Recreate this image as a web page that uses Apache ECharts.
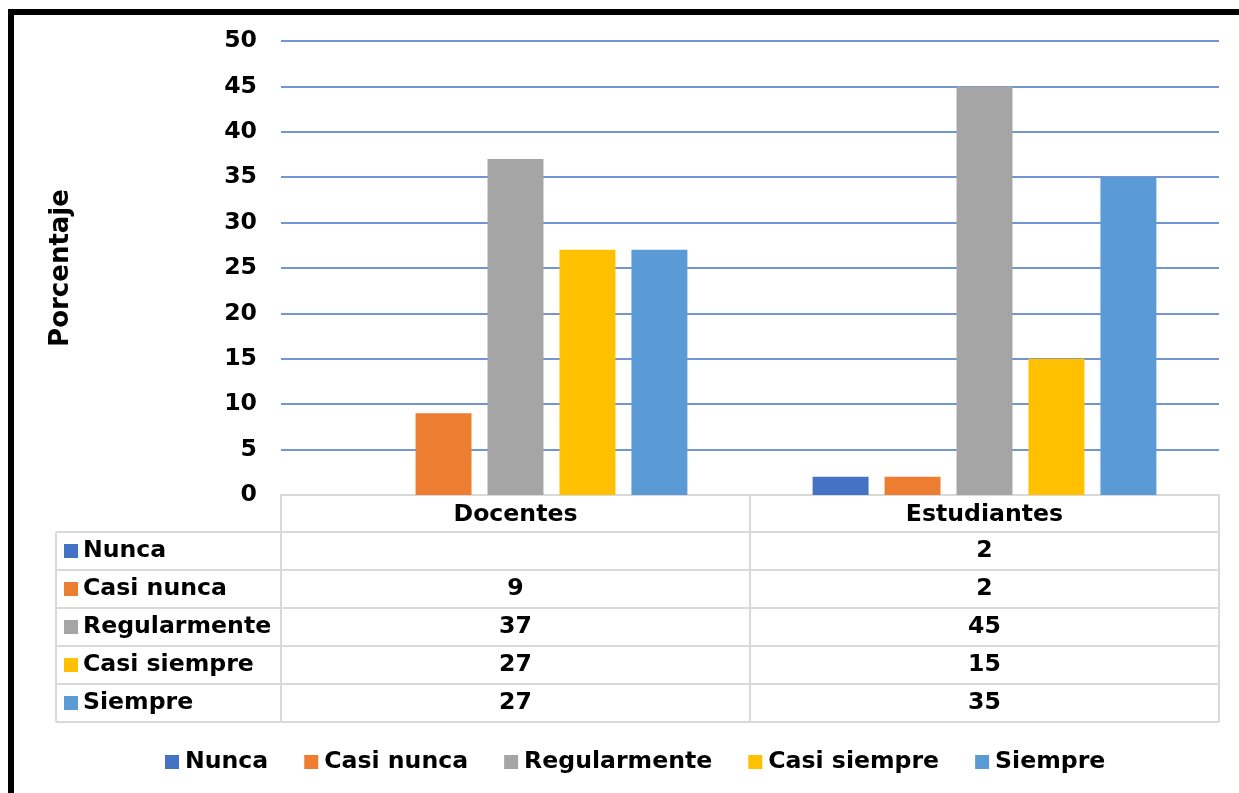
<!DOCTYPE html>
<html><head><meta charset="utf-8">
<script src="https://cdn.jsdelivr.net/npm/echarts@6/dist/echarts.min.js"></script>
<style>html,body{margin:0;padding:0;background:#fff}#c{width:1239px;height:793px}</style>
</head><body><div id="c"></div>
<script>
const categories = ['Docentes', 'Estudiantes'];
const seriesNames = ['Nunca', 'Casi nunca', 'Regularmente', 'Casi siempre', 'Siempre'];
const nunca = [null, 2];
const casiNunca = [9, 2];
const regularmente = [37, 45];
const casiSiempre = [27, 15];
const siempre = [27, 35];
const yTicks = [0, 5, 10, 15, 20, 25, 30, 35, 40, 45, 50];
const colors = ['#4472C4', '#ED7D31', '#A5A5A5', '#FFC000', '#5B9BD5'];
const values = [nunca, casiNunca, regularmente, casiSiempre, siempre];

const FONT = 'DejaVu Sans';
const FS = 23.6;
const GRID = { left: 281, right: 20, top: 41, bottom: 298 };
const ROW_H = 38;
const HEADER_H = 37;
const TABLE_LEFT = 56;
const BORDER = '#d9d9d9';

const chart = echarts.init(document.getElementById('c'), null, { renderer: 'canvas' });
chart.setOption({
  animation: false,
  color: colors,
  grid: GRID,
  legend: {
    left: 165, top: 750, padding: 0,
    itemWidth: 14, itemHeight: 14, itemGap: 36,
    icon: 'rect',
    textStyle: { fontFamily: FONT, fontWeight: 'bold', fontSize: FS, color: '#000', padding: [0, 0, 0, 1] },
    data: seriesNames
  },
  xAxis: {
    type: 'category', data: categories,
    axisLine: { show: true, lineStyle: { color: BORDER, width: 2 } },
    axisTick: { show: false },
    axisLabel: { fontFamily: FONT, fontWeight: 'bold', fontSize: FS, color: '#000', margin: 1, lineHeight: HEADER_H, verticalAlign: 'top' }
  },
  yAxis: {
    type: 'value', min: 0, max: 50, interval: 5,
    name: 'Porcentaje', nameLocation: 'middle', nameGap: 207, nameRotate: 90,
    nameTextStyle: { fontFamily: FONT, fontWeight: 'bold', fontSize: 26, color: '#000' },
    axisLine: { show: false }, axisTick: { show: false },
    axisLabel: { fontFamily: FONT, fontWeight: 'bold', fontSize: FS, color: '#000', margin: 24,
      formatter: v => String(yTicks[yTicks.indexOf(v)]) },
    splitLine: { lineStyle: { color: '#4472C4', width: 1.5 } }
  },
  series: seriesNames.map((n, i) => ({
    name: n, type: 'bar', data: values[i],
    barGap: '28.6%', barCategoryGap: '26.7%'
  }))
});

// Data table drawn from the arrays, aligned to the category axis
const W = 1239, H = 793;
const plotRight = W - GRID.right;
const axisY = chart.convertToPixel({ yAxisIndex: 0 }, 0);
const headerBottom = axisY + HEADER_H;
const colCenters = categories.map((c, i) => chart.convertToPixel({ xAxisIndex: 0 }, i));
const colBounds = [GRID.left, (colCenters[0] + colCenters[1]) / 2, plotRight];
const tableBottom = headerBottom + ROW_H * seriesNames.length;
const g = [];
const line = (x1, y1, x2, y2, stroke, lw, z) => g.push({ type: 'line', shape: { x1, y1, x2, y2 }, style: { stroke: stroke || BORDER, lineWidth: lw || 2 }, z: z || 10 });
colBounds.forEach(x => line(x, axisY, x, headerBottom));
for (let r = 0; r <= seriesNames.length; r++) {
  const y = headerBottom + r * ROW_H;
  line(TABLE_LEFT, y, plotRight, y);
}
[TABLE_LEFT].concat(colBounds).forEach(x => line(x, headerBottom, x, tableBottom));
seriesNames.forEach((n, r) => {
  const cy = headerBottom + r * ROW_H + ROW_H / 2;
  g.push({ type: 'rect', shape: { x: 64, y: cy - 7, width: 14, height: 14 }, style: { fill: colors[r] }, z: 11 });
  g.push({ type: 'text', x: 83, y: cy, style: { text: n, font: `bold ${FS}px "${FONT}"`, fill: '#000', verticalAlign: 'middle' }, z: 11 });
  categories.forEach((c, ci) => {
    const v = values[r][ci];
    if (v == null) return;
    g.push({ type: 'text', x: colCenters[ci], y: cy, style: { text: String(v), font: `bold ${FS}px "${FONT}"`, fill: '#000', align: 'center', verticalAlign: 'middle' }, z: 11 });
  });
});
// outer black frame (only top and left edges visible)
line(8, 12, W, 12, '#000', 6, 20);
line(11, 9, 11, H, '#000', 6, 20);
chart.setOption({ graphic: g });
</script>
</body></html>
